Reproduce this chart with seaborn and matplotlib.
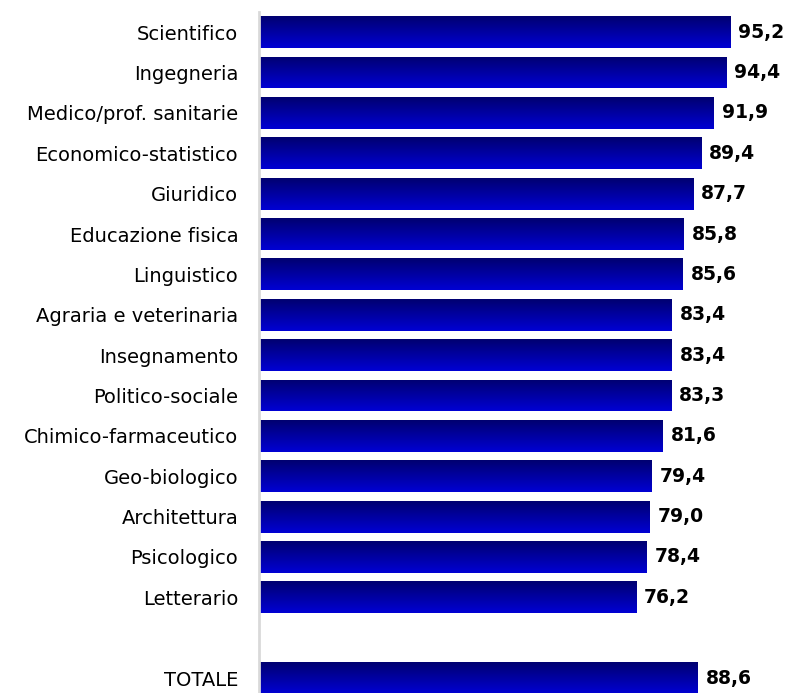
import numpy as np
import pandas as pd
import matplotlib
matplotlib.use("Agg")
import matplotlib.pyplot as plt
from matplotlib.colors import LinearSegmentedColormap
import seaborn as sns

categories = ["Scientifico", "Ingegneria", "Medico/prof. sanitarie", "Economico-statistico",
              "Giuridico", "Educazione fisica", "Linguistico", "Agraria e veterinaria",
              "Insegnamento", "Politico-sociale", "Chimico-farmaceutico", "Geo-biologico",
              "Architettura", "Psicologico", "Letterario"]
values = [95.2, 94.4, 91.9, 89.4, 87.7, 85.8, 85.6, 83.4, 83.4, 83.3, 81.6, 79.4, 79.0, 78.4, 76.2]
total_label = "TOTALE"
total_value = 88.6

df = pd.DataFrame({"gruppo": categories + [total_label], "valore": values + [total_value]})
order = categories + [""] + [total_label]

sns.set_theme(style="white")
plt.rcParams["font.family"] = ["DejaVu Sans"]

fig = plt.figure(figsize=(7.90, 6.93), dpi=100)
ax = fig.add_axes([259 / 790, 0.0, 1 - 259 / 790, 1 - 12 / 693])

sns.barplot(data=df, x="valore", y="gruppo", order=order, orient="h",
            width=0.79, color="#0000a0", ax=ax)

# vertical gradient fill for each bar: dark navy on top, brighter blue below
cmap = LinearSegmentedColormap.from_list("navy_blue", ["#000070", "#0000d4"])
grad = np.linspace(0, 1, 256).reshape(-1, 1)
for patch in ax.patches:
    x0, y0 = patch.get_x(), patch.get_y()
    w, h = patch.get_width(), patch.get_height()
    if not np.isfinite(w) or w == 0:
        continue
    im = ax.imshow(grad, cmap=cmap, aspect="auto", interpolation="bilinear",
                   extent=(x0, x0 + w, y0 + h, y0), zorder=2)
    im.set_clip_path(patch)
    patch.set_facecolor("none")
    patch.set_edgecolor("none")

ax.set_xlim(0, 107.3)
ax.set_ylim(16.37, -0.5)

labels = values + [total_value]
positions = list(range(len(categories))) + [len(categories) + 1]
for pos, v in zip(positions, labels):
    ax.text(v + 1.6, pos, f"{v:.1f}".replace(".", ","), va="center", ha="left",
            fontsize=13.5, fontweight="bold", color="black")

ax.set_xlabel("")
ax.set_ylabel("")
ax.set_xticks([])
ax.tick_params(axis="y", length=0, pad=15, labelsize=14, labelcolor="black")
for side in ["top", "right", "bottom"]:
    ax.spines[side].set_visible(False)
ax.spines["left"].set_color("#d9d9d9")
ax.spines["left"].set_linewidth(2)

fig.savefig("out.png", dpi=100)
